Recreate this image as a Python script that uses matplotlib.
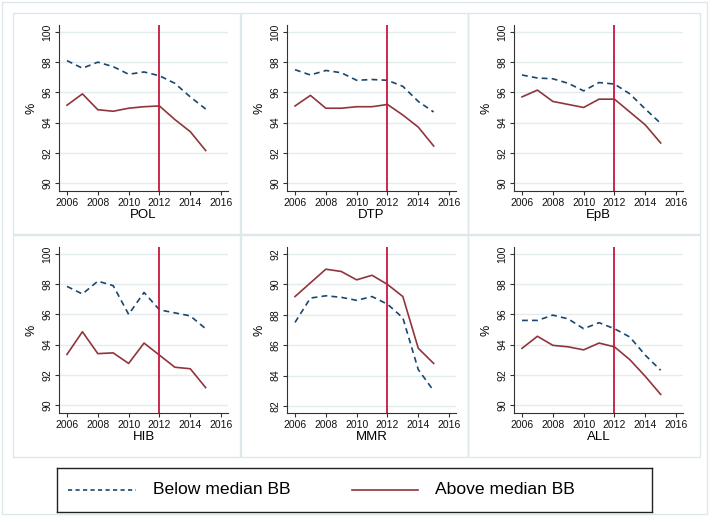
import matplotlib
matplotlib.use("Agg")
import matplotlib.pyplot as plt
from matplotlib.patches import Rectangle

plt.rcParams['font.family'] = ['Liberation Sans', 'DejaVu Sans']

years = [2006, 2007, 2008, 2009, 2010, 2011, 2012, 2013, 2014, 2015]
names = ["POL", "DTP", "EpB", "HIB", "MMR", "ALL"]

pol_below = [98.1, 97.6, 98.0, 97.7, 97.2, 97.35, 97.1, 96.6, 95.7, 94.9]
pol_above = [95.15, 95.9, 94.85, 94.75, 94.95, 95.05, 95.1, 94.2, 93.4, 92.15]
dtp_below = [97.5, 97.15, 97.45, 97.3, 96.8, 96.85, 96.8, 96.4, 95.4, 94.7]
dtp_above = [95.1, 95.8, 94.95, 94.95, 95.05, 95.05, 95.2, 94.5, 93.7, 92.45]
epb_below = [97.15, 96.95, 96.9, 96.6, 96.1, 96.65, 96.55, 95.9, 94.9, 93.95]
epb_above = [95.7, 96.15, 95.4, 95.2, 95.0, 95.55, 95.55, 94.7, 93.85, 92.65]
hib_below = [97.85, 97.35, 98.2, 97.9, 96.0, 97.45, 96.3, 96.1, 95.9, 95.05]
hib_above = [93.35, 94.85, 93.4, 93.45, 92.75, 94.1, 93.3, 92.5, 92.4, 91.15]
mmr_below = [87.5, 89.1, 89.25, 89.15, 88.95, 89.2, 88.7, 87.8, 84.4, 83.0]
mmr_above = [89.2, 90.1, 91.0, 90.85, 90.3, 90.6, 90.0, 89.2, 85.8, 84.8]
all_below = [95.6, 95.6, 95.95, 95.7, 95.05, 95.45, 95.05, 94.5, 93.3, 92.3]
all_above = [93.75, 94.55, 93.95, 93.85, 93.65, 94.1, 93.85, 93.0, 91.9, 90.7]

below = [pol_below, dtp_below, epb_below, hib_below, mmr_below, all_below]
above = [pol_above, dtp_above, epb_above, hib_above, mmr_above, all_above]
labels = ['Below median BB', 'Above median BB']

W, H = 709, 516
fig = plt.figure(figsize=(W / 100, H / 100), dpi=100)

navy = '#1a476f'
maroon = '#90353b'
red = '#c8173c'
grid = '#e3ecee'
box = '#dde8eb'

def px_rect(x0, y0, x1, y1):
    return [x0 / W, 1 - y1 / H, (x1 - x0) / W, (y1 - y0) / H]

# outer and panel boxes
fig.add_artist(Rectangle((2 / W, 2 / H), 705 / W, 512 / H, transform=fig.transFigure,
                         fill=False, edgecolor=box, lw=1))
panel_x = [(13, 240), (241, 468), (468, 700)]
panel_y = [(13, 234), (235, 457)]
for (py0, py1) in panel_y:
    for (px0, px1) in panel_x:
        fig.add_artist(Rectangle((px0 / W, 1 - py1 / H), (px1 - px0) / W, (py1 - py0) / H,
                                 transform=fig.transFigure, fill=False, edgecolor=box, lw=1))

lefts = [59, 287, 514]
rights = [228, 456, 683]
tops = [25, 247]
bottoms = [191, 413]

for i, name in enumerate(names):
    r, c = divmod(i, 3)
    ax = fig.add_axes(px_rect(lefts[c], tops[r], rights[c], bottoms[r]))
    if name == "MMR":
        yt = [82, 84, 86, 88, 90, 92]
        ax.set_ylim(81.54, 92.46)
    else:
        yt = [90, 92, 94, 96, 98, 100]
        ax.set_ylim(89.47, 100.46)
    for y in yt:
        ax.axhline(y, color=grid, lw=1, zorder=0)
    ax.plot(years, below[i], color=navy, lw=1.2, dashes=(3.5, 2.5))
    ax.plot(years, above[i], color=maroon, lw=1.2)
    ax.axvline(2012, color=red, lw=1.3)
    ax.set_xlim(2005.48, 2016.45)
    ax.set_xticks([2006, 2008, 2010, 2012, 2014, 2016])
    ax.set_yticks(yt)
    ax.tick_params(axis='both', labelsize=7.5, length=3, width=0.8, color='#333333',
                   labelcolor='#111111', pad=2)
    for lab in ax.get_yticklabels():
        lab.set_rotation(90)
        lab.set_va('center')
    ax.spines['top'].set_visible(False)
    ax.spines['right'].set_visible(False)
    ax.spines['left'].set_color('#333333')
    ax.spines['bottom'].set_color('#333333')
    ax.set_xlabel(name, fontsize=9.5, labelpad=1)
    ax.set_ylabel('%', fontsize=9, labelpad=3)
    ax.patch.set_alpha(0)

# legend box drawn by hand
lax = fig.add_axes(px_rect(57, 468, 652, 512))
lax.set_xlim(0, 1)
lax.set_ylim(0, 1)
lax.set_xticks([])
lax.set_yticks([])
for s in lax.spines.values():
    s.set_color('#222222')
    s.set_linewidth(1)
lax.plot([0.0185, 0.133], [0.5, 0.5], color=navy, lw=1.2, dashes=(2.5, 2.0))
lax.text(0.161, 0.5, labels[0], fontsize=12.6, va='center', ha='left')
lax.plot([0.496, 0.607], [0.5, 0.5], color=maroon, lw=1.2)
lax.text(0.636, 0.5, labels[1], fontsize=12.6, va='center', ha='left')

fig.savefig('out.png', dpi=100, facecolor='white')
